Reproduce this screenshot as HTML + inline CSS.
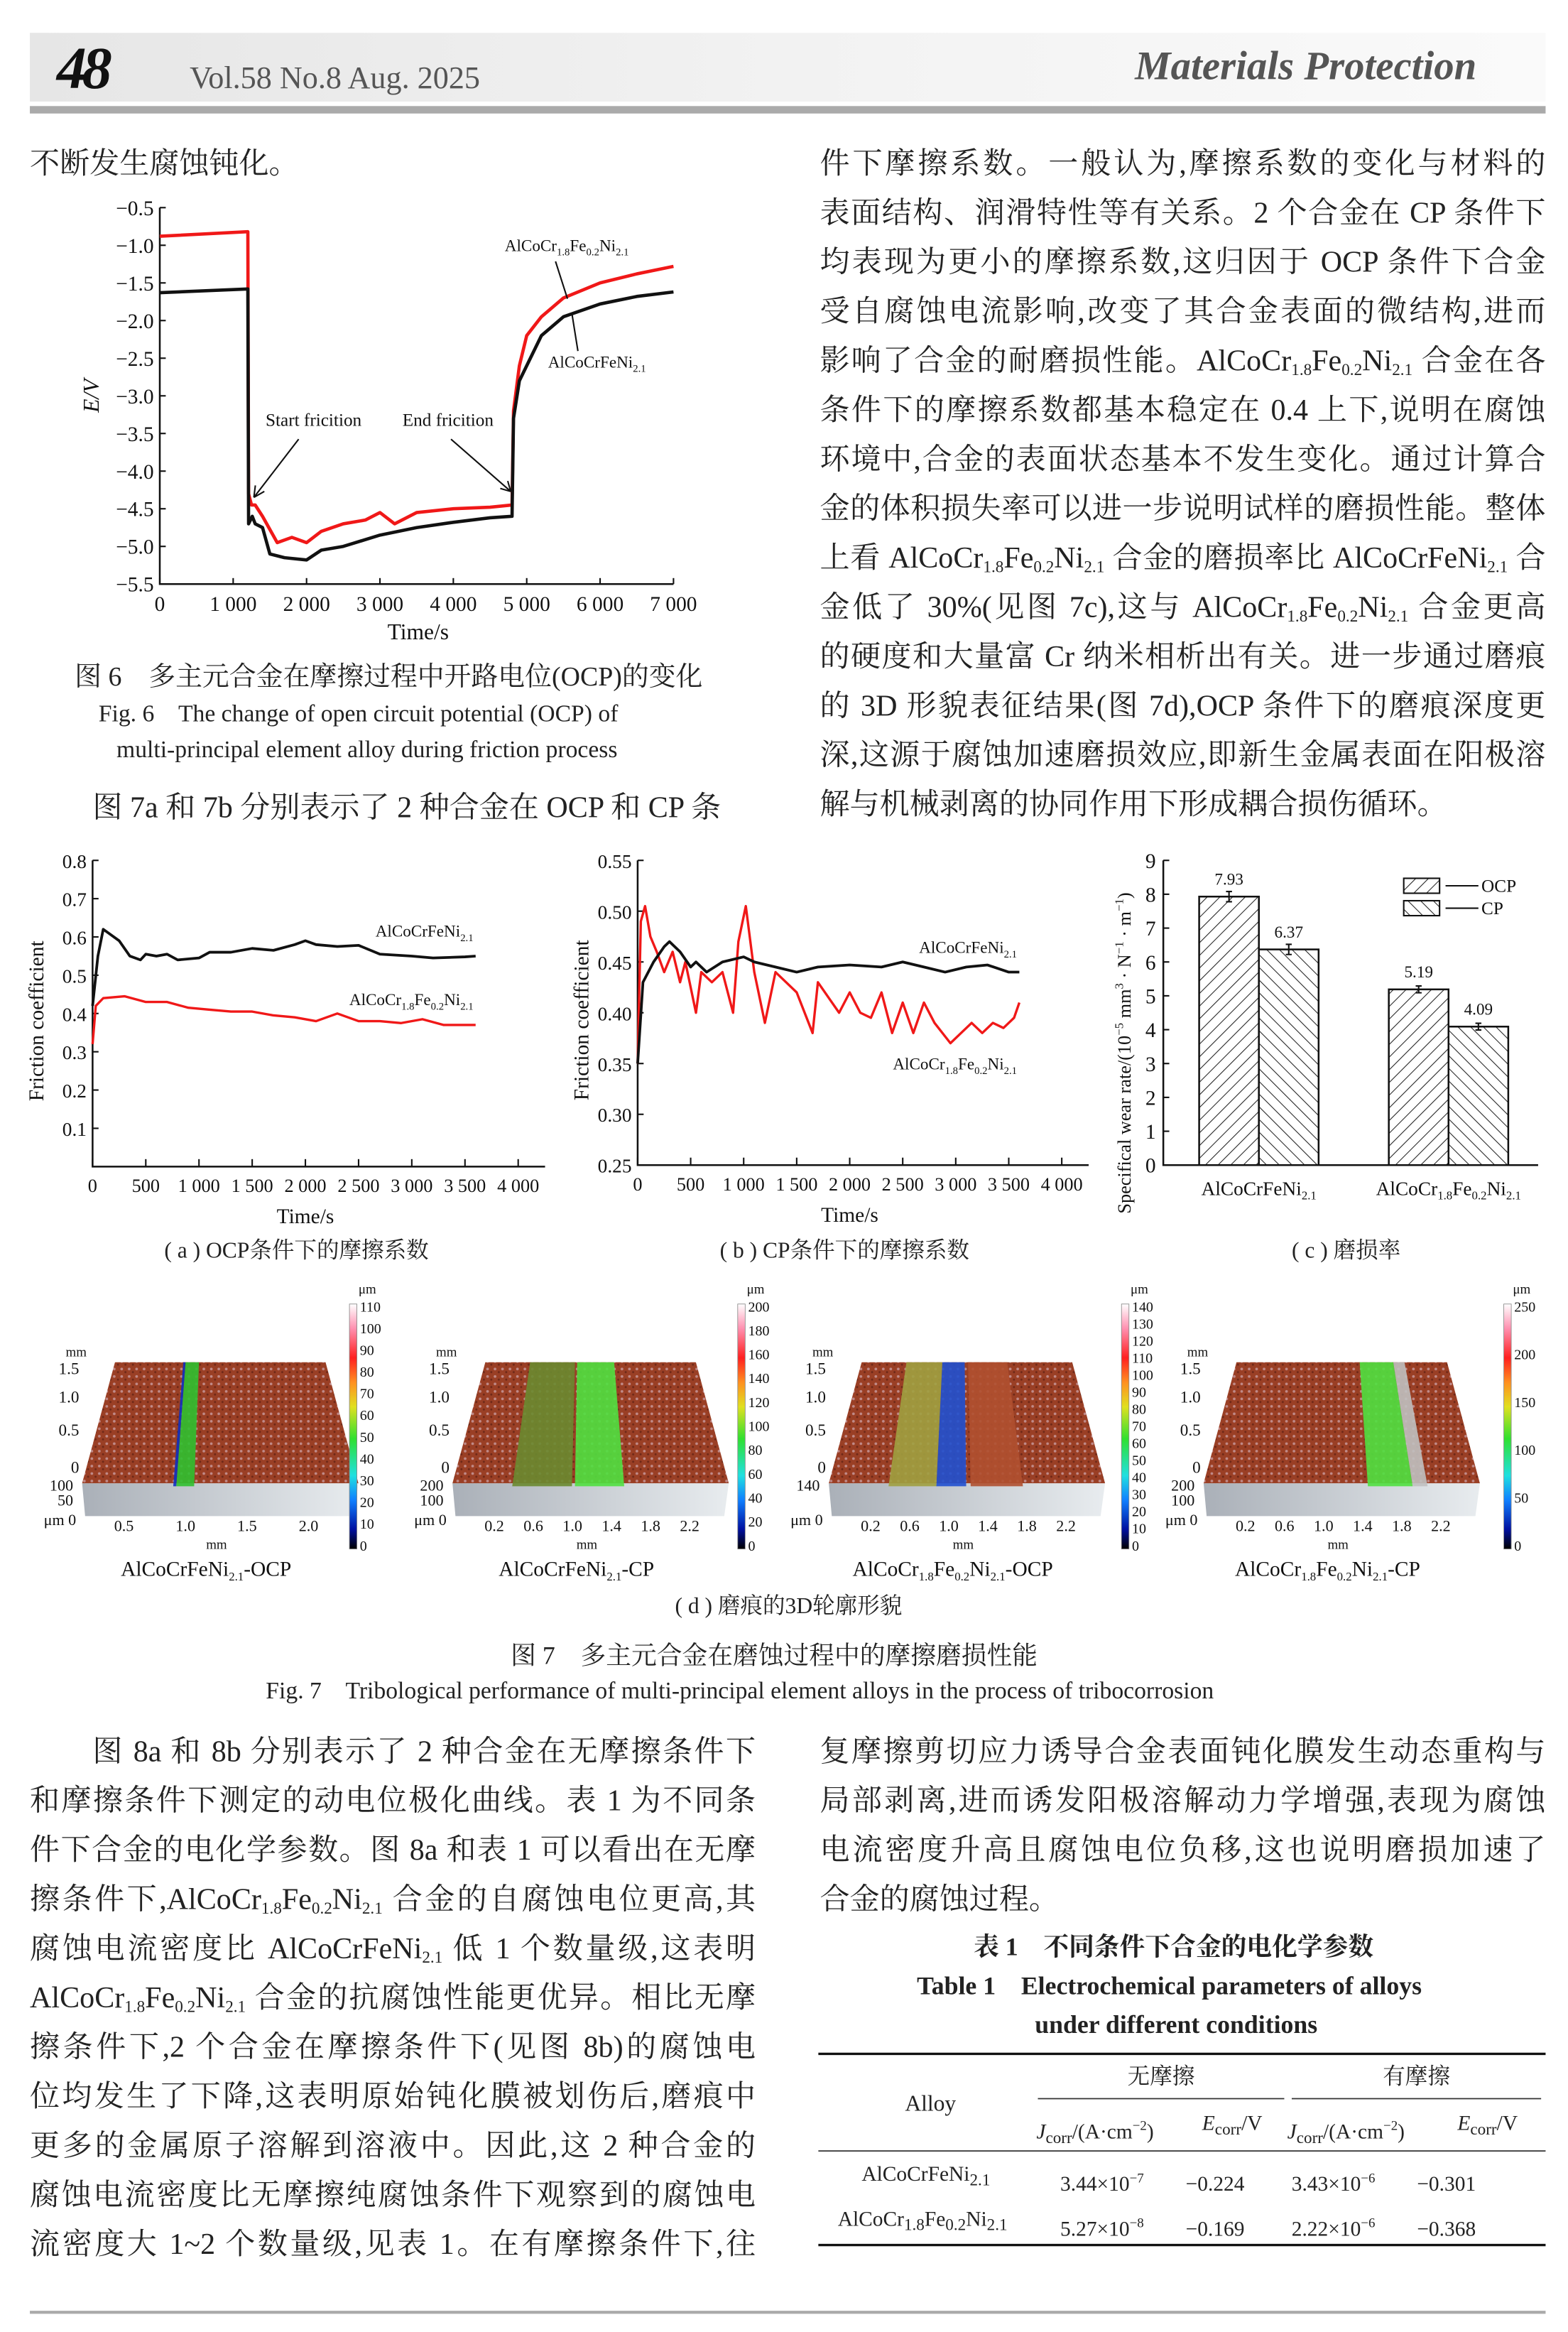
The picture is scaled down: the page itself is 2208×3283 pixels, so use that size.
<!DOCTYPE html>
<html><head><meta charset="utf-8">
<style>
html,body{margin:0;padding:0;background:#fff;}
#root{position:absolute;left:0;top:0;width:1050px;height:1561px;transform:scale(2.10286);transform-origin:0 0;overflow:hidden;background:#fff;}
.t{position:absolute;font-family:"Liberation Serif","Noto Serif CJK SC",serif;font-size:20px;line-height:24px;color:#222;white-space:nowrap;}
.j{text-align:justify;text-align-last:justify;white-space:normal;}
.L{left:20px;width:486px;}
.R{left:549px;width:486px;}
sub{font-size:11px;vertical-align:-3px;line-height:0;}
svg text{font-family:"Liberation Serif","Noto Serif CJK SC",serif;}
</style></head><body>
<div id="root">
<div style="position:absolute;left:20px;top:22px;width:1015px;height:46px;background:linear-gradient(90deg,#e6e6e6,#f2f2f2 50%,#fafafa);"></div>
<div style="position:absolute;left:20px;top:71px;width:1015px;height:5px;background:#aaa;"></div>
<div class="t" style="left:38px;top:26px;font-size:40px;line-height:40px;font-weight:bold;font-style:italic;color:#111;letter-spacing:-3px;">48</div>
<div class="t" style="left:127px;top:40px;font-size:21px;color:#555;">Vol.58 No.8 Aug. 2025</div>
<div class="t" style="left:760px;top:32px;font-size:27px;font-style:italic;font-weight:bold;color:#555;">Materials Protection</div>

<div class="t L" style="top:98px;">不断发生腐蚀钝化。</div>

<div class="t R j" style="top:98px;">件下摩擦系数。一般认为,摩擦系数的变化与材料的</div>
<div class="t R j" style="top:131px;">表面结构、润滑特性等有关系。2 个合金在 CP 条件下</div>
<div class="t R j" style="top:164px;">均表现为更小的摩擦系数,这归因于 OCP 条件下合金</div>
<div class="t R j" style="top:197px;">受自腐蚀电流影响,改变了其合金表面的微结构,进而</div>
<div class="t R j" style="top:230px;">影响了合金的耐磨损性能。AlCoCr<sub>1.8</sub>Fe<sub>0.2</sub>Ni<sub>2.1</sub> 合金在各</div>
<div class="t R j" style="top:263px;">条件下的摩擦系数都基本稳定在 0.4 上下,说明在腐蚀</div>
<div class="t R j" style="top:296px;">环境中,合金的表面状态基本不发生变化。通过计算合</div>
<div class="t R j" style="top:329px;">金的体积损失率可以进一步说明试样的磨损性能。整体</div>
<div class="t R j" style="top:362px;">上看 AlCoCr<sub>1.8</sub>Fe<sub>0.2</sub>Ni<sub>2.1</sub> 合金的磨损率比 AlCoCrFeNi<sub>2.1</sub> 合</div>
<div class="t R j" style="top:395px;">金低了 30%(见图 7c),这与 AlCoCr<sub>1.8</sub>Fe<sub>0.2</sub>Ni<sub>2.1</sub> 合金更高</div>
<div class="t R j" style="top:428px;">的硬度和大量富 Cr 纳米相析出有关。进一步通过磨痕</div>
<div class="t R j" style="top:461px;">的 3D 形貌表征结果(图 7d),OCP 条件下的磨痕深度更</div>
<div class="t R j" style="top:494px;">深,这源于腐蚀加速磨损效应,即新生金属表面在阳极溶</div>
<div class="t R" style="top:527px;">解与机械剥离的协同作用下形成耦合损伤循环。</div>

<div class="t" style="left:50px;top:441px;font-size:18px;">图 6　多主元合金在摩擦过程中开路电位(OCP)的变化</div>
<div class="t" style="left:66px;top:467px;font-size:16px;">Fig. 6　The change of open circuit potential (OCP) of</div>
<div class="t" style="left:78px;top:491px;font-size:16px;">multi-principal element alloy during friction process</div>
<div class="t L" style="top:529px;left:62px;width:440px;">图 7a 和 7b 分别表示了 2 种合金在 OCP 和 CP 条</div>

<div class="t" style="left:110px;top:826px;font-size:15px;">( a ) OCP条件下的摩擦系数</div>
<div class="t" style="left:482px;top:826px;font-size:15px;">( b ) CP条件下的摩擦系数</div>
<div class="t" style="left:865px;top:826px;font-size:15px;">( c ) 磨损率</div>
<div class="t" style="left:452px;top:1064px;font-size:15px;">( d ) 磨痕的3D轮廓形貌</div>
<div class="t" style="left:342px;top:1097px;font-size:17px;">图 7　多主元合金在磨蚀过程中的摩擦磨损性能</div>
<div class="t" style="left:178px;top:1121px;font-size:16px;">Fig. 7　Tribological performance of multi-principal element alloys in the process of tribocorrosion</div>

<div class="t L j" style="top:1161px;left:62px;width:444px;">图 8a 和 8b 分别表示了 2 种合金在无摩擦条件下</div>
<div class="t L j" style="top:1194px;">和摩擦条件下测定的动电位极化曲线。表 1 为不同条</div>
<div class="t L j" style="top:1227px;">件下合金的电化学参数。图 8a 和表 1 可以看出在无摩</div>
<div class="t L j" style="top:1260px;">擦条件下,AlCoCr<sub>1.8</sub>Fe<sub>0.2</sub>Ni<sub>2.1</sub> 合金的自腐蚀电位更高,其</div>
<div class="t L j" style="top:1293px;">腐蚀电流密度比 AlCoCrFeNi<sub>2.1</sub> 低 1 个数量级,这表明</div>
<div class="t L j" style="top:1326px;">AlCoCr<sub>1.8</sub>Fe<sub>0.2</sub>Ni<sub>2.1</sub> 合金的抗腐蚀性能更优异。相比无摩</div>
<div class="t L j" style="top:1359px;">擦条件下,2 个合金在摩擦条件下(见图 8b)的腐蚀电</div>
<div class="t L j" style="top:1392px;">位均发生了下降,这表明原始钝化膜被划伤后,磨痕中</div>
<div class="t L j" style="top:1425px;">更多的金属原子溶解到溶液中。因此,这 2 种合金的</div>
<div class="t L j" style="top:1458px;">腐蚀电流密度比无摩擦纯腐蚀条件下观察到的腐蚀电</div>
<div class="t L j" style="top:1491px;">流密度大 1~2 个数量级,见表 1。在有摩擦条件下,往</div>

<div class="t R j" style="top:1161px;">复摩擦剪切应力诱导合金表面钝化膜发生动态重构与</div>
<div class="t R j" style="top:1194px;">局部剥离,进而诱发阳极溶解动力学增强,表现为腐蚀</div>
<div class="t R j" style="top:1227px;">电流密度升高且腐蚀电位负移,这也说明磨损加速了</div>
<div class="t R" style="top:1260px;">合金的腐蚀过程。</div>

<div class="t" style="left:652px;top:1292px;font-size:17px;font-weight:bold;">表 1　不同条件下合金的电化学参数</div>
<div class="t" style="left:614px;top:1318px;font-size:17px;font-weight:bold;">Table 1　Electrochemical parameters of alloys</div>
<div class="t" style="left:693px;top:1344px;font-size:17px;font-weight:bold;">under different conditions</div>

<div class="t" style="left:606px;top:1397px;font-size:15px;">Alloy</div>
<div class="t" style="left:755px;top:1379px;font-size:15px;">无摩擦</div>
<div class="t" style="left:926px;top:1379px;font-size:15px;">有摩擦</div>
<div class="t" style="left:694px;top:1411px;font-size:14px;"><i>J</i><sub>corr</sub>/(A·cm<sup style="font-size:9px">−2</sup>)</div>
<div class="t" style="left:805px;top:1411px;font-size:14px;"><i>E</i><sub>corr</sub>/V</div>
<div class="t" style="left:862px;top:1411px;font-size:14px;"><i>J</i><sub>corr</sub>/(A·cm<sup style="font-size:9px">−2</sup>)</div>
<div class="t" style="left:976px;top:1411px;font-size:14px;"><i>E</i><sub>corr</sub>/V</div>
<div class="t" style="left:577px;top:1445px;font-size:14px;">AlCoCrFeNi<sub>2.1</sub></div>
<div class="t" style="left:710px;top:1446px;font-size:14px;word-spacing:0">3.44×10<sup style="font-size:9px">−7</sup>　　−0.224　　 3.43×10<sup style="font-size:9px">−6</sup>　　−0.301</div>
<div class="t" style="left:561px;top:1475px;font-size:14px;">AlCoCr<sub>1.8</sub>Fe<sub>0.2</sub>Ni<sub>2.1</sub></div>
<div class="t" style="left:710px;top:1476px;font-size:14px;">5.27×10<sup style="font-size:9px">−8</sup>　　−0.169　　 2.22×10<sup style="font-size:9px">−6</sup>　　−0.368</div>

<svg id="fig" width="1050" height="1561" style="position:absolute;left:0;top:0;" xmlns="http://www.w3.org/2000/svg">
<defs>
<pattern id="hatchA" width="6" height="6" patternUnits="userSpaceOnUse" patternTransform="rotate(45)"><rect width="6" height="6" fill="#fff"/><line x1="0" y1="0" x2="0" y2="6" stroke="#222" stroke-width="1"/></pattern>
<pattern id="hatchB" width="6" height="6" patternUnits="userSpaceOnUse" patternTransform="rotate(-45)"><rect width="6" height="6" fill="#fff"/><line x1="0" y1="0" x2="0" y2="6" stroke="#222" stroke-width="1"/></pattern>
<linearGradient id="cbar" x1="0" y1="1" x2="0" y2="0">
<stop offset="0" stop-color="#000"/><stop offset="0.08" stop-color="#0010a0"/><stop offset="0.2" stop-color="#1080ff"/><stop offset="0.3" stop-color="#20e0e0"/><stop offset="0.45" stop-color="#30e030"/><stop offset="0.58" stop-color="#e0e020"/><stop offset="0.68" stop-color="#ff9020"/><stop offset="0.78" stop-color="#ff2020"/><stop offset="0.9" stop-color="#ff90b0"/><stop offset="1" stop-color="#fff"/>
</linearGradient>
<pattern id="speck" width="5" height="5" patternUnits="userSpaceOnUse"><rect width="5" height="5" fill="#9a3f25"/><circle cx="1.5" cy="1.5" r="0.9" fill="#c08a88"/><circle cx="4" cy="3.6" r="0.7" fill="#6d2818"/></pattern>
<linearGradient id="front" x1="0" y1="0" x2="1" y2="0"><stop offset="0" stop-color="#aab0b8"/><stop offset="1" stop-color="#e8ecef"/></linearGradient>
</defs>
<line x1="20" y1="1548" x2="1035" y2="1548" stroke="#aaa" stroke-width="2"/>
<line x1="548" y1="1375" x2="1035" y2="1375" stroke="#111" stroke-width="1.6"/>
<line x1="695" y1="1405" x2="860" y2="1405" stroke="#333" stroke-width="0.8"/>
<line x1="865" y1="1405" x2="1032" y2="1405" stroke="#333" stroke-width="0.8"/>
<line x1="548" y1="1440" x2="1035" y2="1440" stroke="#333" stroke-width="0.8"/>
<line x1="548" y1="1503" x2="1035" y2="1503" stroke="#111" stroke-width="1.6"/>
</svg>
</div>
<script>
// ---- Fig 6 data ----
const fig6Time = [0,1200,1210,1250,1300,1400,1600,1800,2000,2200,2500,2800,3000,3200,3500,4000,4500,4800,4820,4900,5000,5200,5500,6000,6500,7000];
const fig6Red  = [-0.88,-0.82,-4.3,-4.45,-4.45,-4.6,-4.95,-4.88,-4.95,-4.8,-4.7,-4.65,-4.55,-4.7,-4.55,-4.5,-4.48,-4.45,-3.2,-2.6,-2.2,-1.95,-1.7,-1.5,-1.38,-1.28];
const fig6BlackTime = [0,1200,1210,1260,1300,1400,1500,1700,2000,2200,2500,3000,3500,4000,4500,4800,4820,4900,5000,5200,5500,6000,6500,7000];
const fig6Black = [-1.63,-1.58,-4.7,-4.6,-4.7,-4.75,-5.1,-5.15,-5.18,-5.05,-5.0,-4.85,-4.75,-4.68,-4.62,-4.6,-3.3,-2.8,-2.6,-2.2,-1.95,-1.78,-1.68,-1.62];
const fig6YTicks = [-0.5,-1.0,-1.5,-2.0,-2.5,-3.0,-3.5,-4.0,-4.5,-5.0,-5.5];
const fig6XTicks = [0,1000,2000,3000,4000,5000,6000,7000];
const fig6XLabels = ["0","1 000","2 000","3 000","4 000","5 000","6 000","7 000"];
// ---- Fig 7a ----
const f7aTimeB = [0,50,100,150,250,350,450,500,600,700,800,1000,1100,1300,1500,1700,1900,2000,2100,2300,2500,2700,3000,3200,3500,3600];
const f7aBlack = [0.42,0.55,0.62,0.61,0.59,0.55,0.54,0.555,0.55,0.555,0.54,0.545,0.56,0.56,0.57,0.565,0.58,0.59,0.58,0.575,0.578,0.555,0.55,0.545,0.548,0.55];
const f7aTimeR = [0,30,100,300,500,700,900,1100,1300,1500,1700,1900,2100,2300,2500,2700,2900,3100,3300,3500,3600];
const f7aRed = [0.32,0.42,0.44,0.445,0.43,0.43,0.415,0.41,0.405,0.405,0.395,0.39,0.38,0.40,0.38,0.38,0.375,0.385,0.37,0.37,0.37];
const f7aYTicks = [0.1,0.2,0.3,0.4,0.5,0.6,0.7,0.8];
const fricXTicks = [0,500,1000,1500,2000,2500,3000,3500,4000];
const fricXLabels = ["0","500","1 000","1 500","2 000","2 500","3 000","3 500","4 000"];
// ---- Fig 7b ----
const f7bTimeB = [0,50,150,250,300,400,500,550,650,800,1000,1100,1300,1500,1700,2000,2300,2500,2700,2900,3100,3300,3500,3600];
const f7bBlack = [0.35,0.43,0.45,0.465,0.47,0.46,0.445,0.45,0.44,0.45,0.455,0.45,0.445,0.44,0.445,0.447,0.445,0.45,0.445,0.44,0.445,0.447,0.44,0.44];
const f7bTimeR = [0,30,70,120,180,250,330,400,450,550,600,700,800,900,950,1020,1100,1200,1300,1400,1500,1650,1700,1800,1900,2000,2100,2200,2300,2400,2500,2600,2700,2800,2950,3050,3150,3250,3350,3450,3550,3600];
const f7bRed = [0.35,0.49,0.505,0.475,0.46,0.44,0.46,0.43,0.45,0.40,0.44,0.43,0.44,0.40,0.47,0.505,0.44,0.39,0.44,0.43,0.42,0.38,0.43,0.415,0.40,0.42,0.40,0.395,0.42,0.38,0.41,0.38,0.41,0.39,0.37,0.38,0.39,0.38,0.39,0.385,0.395,0.41];
const f7bYTicks = [0.25,0.30,0.35,0.40,0.45,0.50,0.55];
// ---- Fig 7c ----
const wearAlloys = ["AlCoCrFeNi","AlCoCr"];
const wearOCP = [7.93,5.19];
const wearCP = [6.37,4.09];
const wearOCPLabels = ["7.93","5.19"];
const wearCPLabels = ["6.37","4.09"];
const wearErr = [0.15,0.1];
const wearYTicks = [0,1,2,3,4,5,6,7,8,9];

const svg = document.getElementById('fig');
const NS = 'http://www.w3.org/2000/svg';
function mk(tag, attrs, parent){ const e=document.createElementNS(NS,tag); for(const k in attrs) e.setAttribute(k,attrs[k]); (parent||svg).appendChild(e); return e; }
function txt(x,y,s,size,anchor,parent){ const e=mk('text',{x:x,y:y,'font-size':size,'text-anchor':anchor||'middle',fill:'#111'},parent); e.textContent=s; return e; }
function line(xs,ys,sx,sy,color,w){ let d=''; for(let i=0;i<xs.length;i++){ d+=(i?'L':'M')+sx(xs[i]).toFixed(2)+','+sy(ys[i]).toFixed(2);} return mk('path',{d:d,fill:'none',stroke:color,'stroke-width':w,'stroke-linejoin':'round'}); }

// Fig 6
{
const sx=t=>107+t*344/7000, sy=v=>139+(-0.5-v)*50.4;
const ax=mk('path',{d:`M${sx(0)},${sy(-0.5)} L${sx(0)},${sy(-5.5)} L${sx(7000)},${sy(-5.5)}`,fill:'none',stroke:'#111','stroke-width':1.2});
 
fig6YTicks.forEach(v=>{ mk('line',{x1:sx(0),x2:sx(0)+4,y1:sy(v),y2:sy(v),stroke:'#111'}); const t=txt(sx(0)-4,sy(v)+5,v.toFixed(1).replace('-','−'),14,'end');   });
fig6XTicks.forEach((v,i)=>{ mk('line',{x1:sx(v),x2:sx(v),y1:sy(-5.5),y2:sy(-5.5)-4,stroke:'#111'}); const t=txt(sx(v),sy(-5.5)+18,fig6XLabels[i],14);   });
const xt=txt(280,428,'Time/s',15);  
const yt=txt(0,0,'E/V',15); yt.setAttribute('transform','translate(66,265) rotate(-90)'); yt.setAttribute('font-style','italic');
 
const rl=line(fig6Time,fig6Red,sx,sy,'#f01818',2.2);  
const bl=line(fig6BlackTime,fig6Black,sx,sy,'#111',2.2);  
const l1=txt(338,168,'',11,'start'); l1.innerHTML='AlCoCr<tspan font-size="7" dy="3">1.8</tspan><tspan dy="-3">Fe</tspan><tspan font-size="7" dy="3">0.2</tspan><tspan dy="-3">Ni</tspan><tspan font-size="7" dy="3">2.1</tspan>';
 
const l2=txt(367,246,'',11,'start'); l2.innerHTML='AlCoCrFeNi<tspan font-size="7" dy="3">2.1</tspan>';
 
mk('line',{x1:372,y1:175,x2:380,y2:200,stroke:'#111'}); mk('line',{x1:383,y1:210,x2:387,y2:235,stroke:'#111'});
const s1=txt(210,285,'Start fricition',12);  
const s2=txt(300,285,'End  fricition',12);  
mk('path',{d:'M200,294 L170,333 M170,333 l1,-8 M170,333 l7,-4',stroke:'#111',fill:'none','stroke-width':1});
mk('path',{d:'M302,294 L342,329 M342,329 l-7,-2 M342,329 l-2,-7',stroke:'#111',fill:'none','stroke-width':1});
}
// friction chart helper
function fric(x0,x1,yTop,yBot,vMin,vMax,ticks,dec,tb,b,tr,r,name,labY1,labY2){
 const sx=t=>x0+t*(x1-x0)/4000, sy=v=>yBot-(v-vMin)*(yBot-yTop)/(vMax-vMin);
 const ax=mk('path',{d:`M${x0},${yTop} L${x0},${yBot} L${x1+18},${yBot}`,fill:'none',stroke:'#111','stroke-width':1.2});
  
 ticks.forEach(v=>{ mk('line',{x1:x0,x2:x0+4,y1:sy(v),y2:sy(v),stroke:'#111'}); const t=txt(x0-4,sy(v)+5,v.toFixed(dec),13,'end');   });
 fricXTicks.forEach((v,i)=>{ mk('line',{x1:sx(v),x2:sx(v),y1:yBot,y2:yBot-5,stroke:'#111'}); const t=txt(sx(v),yBot+17,fricXLabels[i],12.5);   });
 const xt=txt((x0+x1)/2,yBot+38,'Time/s',14);  
 const yt=txt(0,0,'Friction coefficient',14); yt.setAttribute('transform',`translate(${x0-33},${(yTop+yBot)/2+5}) rotate(-90)`);
  
 const rl=line(tr,r,sx,sy,'#f01818',1.6);  
 const bl=line(tb,b,sx,sy,'#111',1.8);  
 const l1=txt(x1-30,labY1,'',11,'end'); l1.innerHTML='AlCoCrFeNi<tspan font-size="7" dy="3">2.1</tspan>';
  
 const l2=txt(x1-30,labY2,'',11,'end'); l2.innerHTML='AlCoCr<tspan font-size="7" dy="3">1.8</tspan><tspan dy="-3">Fe</tspan><tspan font-size="7" dy="3">0.2</tspan><tspan dy="-3">Ni</tspan><tspan font-size="7" dy="3">2.1</tspan>';
  
}
fric(62,347,576,781,0,0.8,f7aYTicks,1,f7aTimeB,f7aBlack,f7aTimeR,f7aRed,'fig7a',627,673);
fric(427,711,576,780,0.25,0.55,f7bYTicks,2,f7bTimeB,f7bBlack,f7bTimeR,f7bRed,'fig7b',638,716);
// Fig 7c
{
const x0=779,x1=1030,yBot=780,yTop=576, sy=v=>yBot-v*(yBot-yTop)/9;
const groupX=[803,930], bw=40;
const ax=mk('path',{d:`M${x0},${yTop} L${x0},${yBot} L${x1},${yBot}`,fill:'none',stroke:'#111','stroke-width':1.2});
 
wearYTicks.forEach(v=>{ mk('line',{x1:x0,x2:x0+4,y1:sy(v),y2:sy(v),stroke:'#111'}); const t=txt(x0-5,sy(v)+5,String(v),14,'end');   });
wearOCP.forEach((v,i)=>{
 const r1=mk('rect',{x:groupX[i],y:sy(v),width:bw,height:yBot-sy(v),fill:'url(#hatchA)',stroke:'#111','stroke-width':1.2});
  
 const c=wearCP[i];
 const r2=mk('rect',{x:groupX[i]+bw,y:sy(c),width:bw,height:yBot-sy(c),fill:'url(#hatchB)',stroke:'#111','stroke-width':1.2});
  
 [[v,groupX[i]+bw/2,wearOCPLabels[i]],[c,groupX[i]+bw*1.5,wearCPLabels[i]]].forEach(a=>{
  const e=wearErr[i];
  mk('path',{d:`M${a[1]},${sy(a[0]+e)} L${a[1]},${sy(a[0]-e)} M${a[1]-2},${sy(a[0]+e)} h4 M${a[1]-2},${sy(a[0]-e)} h4`,stroke:'#111',fill:'none'});
  const t=txt(a[1],sy(a[0])-8,a[2],11);  
 });
});
const a1=txt(843,800,'',13); a1.innerHTML='AlCoCrFeNi<tspan font-size="8" dy="3">2.1</tspan>';  
const a2=txt(970,800,'',13); a2.innerHTML='AlCoCr<tspan font-size="8" dy="3">1.8</tspan><tspan dy="-3">Fe</tspan><tspan font-size="8" dy="3">0.2</tspan><tspan dy="-3">Ni</tspan><tspan font-size="8" dy="3">2.1</tspan>';  
const yt=txt(0,0,'',12.5); yt.innerHTML='Specifical wear rate/(10<tspan font-size="8" dy="-5">−5</tspan><tspan dy="5"> mm</tspan><tspan font-size="8" dy="-5">3</tspan><tspan dy="5"> · N</tspan><tspan font-size="8" dy="-5">−1</tspan><tspan dy="5"> · m</tspan><tspan font-size="8" dy="-5">−1</tspan><tspan dy="5">)</tspan>';
yt.setAttribute('transform','translate(757,705) rotate(-90)');  
const lg1=mk('rect',{x:940,y:588,width:24,height:10,fill:'url(#hatchA)',stroke:'#111'});  
const lg2=mk('rect',{x:940,y:603,width:24,height:10,fill:'url(#hatchB)',stroke:'#111'});  
mk('line',{x1:968,x2:990,y1:593,y2:593,stroke:'#111'}); mk('line',{x1:968,x2:990,y1:608,y2:608,stroke:'#111'});
const t1=txt(992,597,'OCP',12,'start');  
const t2=txt(992,612,'CP',12,'start');  
}
// Fig 7d 3D panels
const panels=[
 {ox:55,cb:234,cbTicks:["110","100","90","80","70","60","50","40","30","20","10","0"],strip:[[63,75,'#30c030'],[61,63,'#1030c0']],depth:["100","50"],xl:["0.5","1.0","1.5","2.0"],title:'AlCoCrFeNi',sub:'2.1',suf:'-OCP',green:0},
 {ox:303,cb:494,cbTicks:["200","180","160","140","120","100","80","60","40","20","0"],strip:[[82,115,'#50e040'],[40,80,'#6a8a30']],depth:["200","100"],xl:["0.2","0.6","1.0","1.4","1.8","2.2"],title:'AlCoCrFeNi',sub:'2.1',suf:'-CP',green:1},
 {ox:555,cb:751,cbTicks:["140","130","120","110","100","90","80","70","60","50","40","30","20","10","0"],strip:[[72,92,'#2050d0'],[40,72,'#a0a040'],[95,130,'#b05030']],depth:["140"],xl:["0.2","0.6","1.0","1.4","1.8","2.2"],title:'AlCoCr',sub:'1.8',suf:'-OCP',alloy2:1},
 {ox:806,cb:1007,cbTicks:["250","200","150","100","50","0"],strip:[[110,140,'#50e040'],[140,150,'#c0c0c0']],depth:["200","100"],xl:["0.2","0.6","1.0","1.4","1.8","2.2"],title:'AlCoCr',sub:'1.8',suf:'-CP',alloy2:1}
];
panels.forEach((p,pi)=>{
 const g=mk('g',{});  
 const o=p.ox, W=185;
 mk('polygon',{points:`${o},993 ${o+W},993 ${o+W-3},1015 ${o+2},1015`,fill:'url(#front)'},g);
 mk('polygon',{points:`${o+22},912 ${o+W-22},912 ${o+W},993 ${o},993`,fill:'url(#speck)'},g);
 p.strip.forEach(s=>{ const a=s[0],b=s[1]; mk('polygon',{points:`${o+22+a*0.75},912 ${o+22+b*0.75},912 ${o+b},995 ${o+a},995`,fill:s[2],opacity:0.9},g); });
 const cbr=mk('rect',{x:p.cb,y:873,width:5,height:164,fill:'url(#cbar)',stroke:'#888','stroke-width':0.4},g);
  
 txt(p.cb+12,866,'μm',9,'middle',g);
 p.cbTicks.forEach((s,i)=>{ txt(p.cb+7,878+i*(160/(p.cbTicks.length-1)),s,9.5,'start',g); });
 txt(o-4,908,'mm',9,'middle',g);
 [['1.5',920],['1.0',939],['0.5',961],['0',986]].forEach(a=>txt(o-2,a[1],a[0],11,'end',g));
 p.depth.forEach((d,i)=>txt(o-6,998+i*10,d,10.5,'end',g));
 txt(o-4,1021,'μm 0',10.5,'end',g);
 p.xl.forEach((s,i)=>txt(o+28+i*(W-28)/p.xl.length*(p.xl.length>4?1:1.05),1025,s,10.5,'middle',g));
 txt(o+90,1037,'mm',9,'middle',g);
 const t=txt(o+83,1055,'',14,'middle',g);
 if(p.alloy2) t.innerHTML='AlCoCr<tspan font-size="8" dy="3">1.8</tspan><tspan dy="-3">Fe</tspan><tspan font-size="8" dy="3">0.2</tspan><tspan dy="-3">Ni</tspan><tspan font-size="8" dy="3">2.1</tspan><tspan dy="-3">'+p.suf+'</tspan>';
 else t.innerHTML='AlCoCrFeNi<tspan font-size="8" dy="3">2.1</tspan><tspan dy="-3">'+p.suf+'</tspan>';
  
});
</script>
</body></html>
